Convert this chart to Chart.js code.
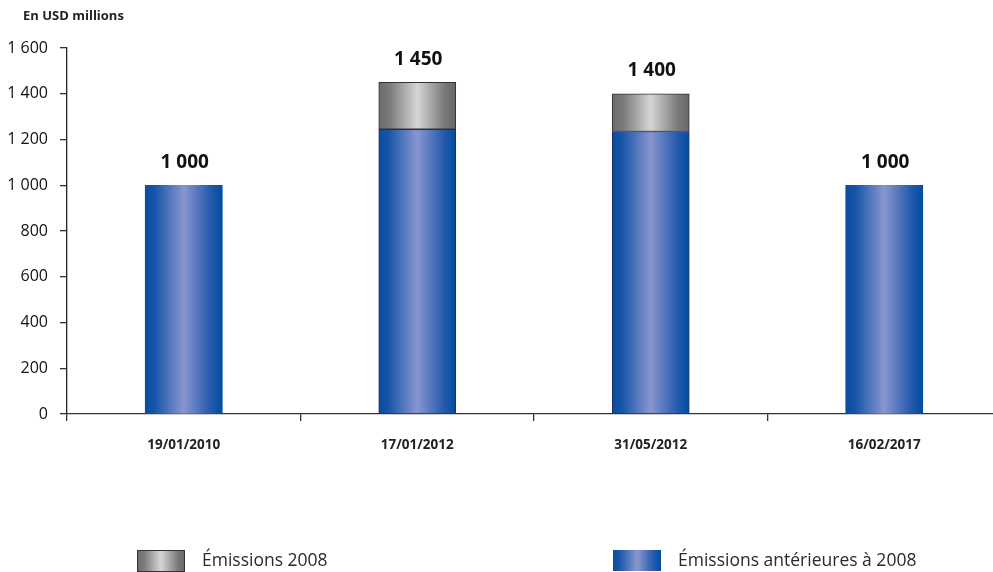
<!DOCTYPE html>
<html>
<head>
<meta charset="utf-8">
<script src="https://cdn.jsdelivr.net/npm/chart.js@4/dist/chart.umd.min.js"></script>
<style>
  html, body { margin: 0; padding: 0; background: #fff; overflow: hidden; }
  #wrap { position: absolute; left: 0; top: 0; width: 1005px; height: 572px; }
</style>
</head>
<body>
<div id="wrap"><canvas id="c" width="1005" height="572"></canvas></div>
<script>
// Issue dates and amounts (USD millions)
const categories = ['19/01/2010', '17/01/2012', '31/05/2012', '16/02/2017'];
const before2008 = [1000, 1245, 1235, 1000];
const issues2008 = [null, 205, 165, null];
const yTicks = [0, 200, 400, 600, 800, 1000, 1200, 1400, 1600];
const unitLabel = 'En USD millions';
const seriesNames = ['Émissions 2008', 'Émissions antérieures à 2008'];

const FONT = "'Open Sans', 'Noto Sans', sans-serif";
const BAR = 77;

const blueStops = [[0, '#0a4d9e'], [0.12, '#1554a8'], [0.5, '#8896cf'], [0.85, '#2459ad'], [1, '#004e9f']];
const greyStops = [[0, '#6b6b6d'], [0.15, '#7c7c7e'], [0.5, '#d6d6d6'], [0.85, '#7a7a7c'], [1, '#666668']];

function fmt(v) {
  return String(v).replace(/\B(?=(\d{3})+(?!\d))/g, ' ');
}

function hGradient(c2d, x0, x1, stops) {
  const g = c2d.createLinearGradient(x0, 0, x1, 0);
  stops.forEach(s => g.addColorStop(s[0], s[1]));
  return g;
}

function barFill(stops) {
  return ctx => {
    const xs = ctx.chart.scales && ctx.chart.scales.x;
    if (!xs || ctx.type !== 'data') return stops[2][1];
    const cx = xs.getPixelForValue(ctx.dataIndex);
    if (!isFinite(cx)) return stops[2][1];
    return hGradient(ctx.chart.ctx, cx - BAR / 2, cx + BAR / 2, stops);
  };
}

// Totals written above each bar, title and legend drawn on the canvas
const decorations = {
  id: 'decorations',
  afterDatasetsDraw(chart) {
    const c = chart.ctx;
    const xs = chart.scales.x, ys = chart.scales.y;
    c.save();
    c.fillStyle = '#111';
    c.textAlign = 'center';
    c.textBaseline = 'middle';
    c.font = `bold 19px ${FONT}`;
    categories.forEach((cat, i) => {
      const total = (before2008[i] || 0) + (issues2008[i] || 0);
      c.fillText(fmt(total), xs.getPixelForValue(i) + 1, ys.getPixelForValue(total) - 23);
    });

    c.textAlign = 'left';
    c.font = `bold 13px ${FONT}`;
    c.fillStyle = '#222';
    c.fillText(unitLabel, 23, 16);

    // legend
    const items = [
      { x: 137, stops: greyStops, border: '#333', name: seriesNames[0] },
      { x: 613, stops: blueStops, border: null, name: seriesNames[1] }
    ];
    c.font = `17.5px ${FONT}`;
    items.forEach(it => {
      c.fillStyle = hGradient(c, it.x, it.x + 48, it.stops);
      c.fillRect(it.x, 550, 48, 21);
      if (it.border) {
        c.strokeStyle = it.border;
        c.lineWidth = 1;
        c.strokeRect(it.x + 0.5, 550.5, 47, 21);
      }
      c.fillStyle = '#2a2a2a';
      c.fillText(it.name, it.x + 65, 561);
    });
    c.restore();
  }
};

new Chart(document.getElementById('c'), {
  type: 'bar',
  data: {
    labels: categories,
    datasets: [
      {
        label: seriesNames[1],
        data: before2008,
        backgroundColor: barFill(blueStops),
        borderColor: '#1d2f5e',
        borderWidth: [0, 1, 1, 0],
        barThickness: BAR,
        stack: 's'
      },
      {
        label: seriesNames[0],
        data: issues2008,
        backgroundColor: barFill(greyStops),
        borderColor: '#333',
        borderWidth: 1,
        borderSkipped: false,
        barThickness: BAR,
        stack: 's'
      }
    ]
  },
  options: {
    responsive: false,
    animation: false,
    layout: { padding: { top: 48, left: 0, right: 4, bottom: 0 } },
    plugins: {
      legend: { display: false },
      tooltip: { enabled: false },
      title: { display: false }
    },
    scales: {
      x: {
        stacked: true,
        afterFit: s => { s.height = 158; },
        border: { display: true, color: '#333', width: 1.3 },
        grid: { offset: true, drawOnChartArea: false, drawTicks: true, tickLength: 7, color: '#333', lineWidth: 1.3 },
        ticks: {
          padding: 16,
          color: '#222',
          font: { family: FONT, size: 13.5, weight: 'bold' }
        }
      },
      y: {
        stacked: true,
        min: 0,
        max: 1600,
        afterFit: s => { s.width = 67; },
        afterBuildTicks: s => { s.ticks = yTicks.map(v => ({ value: v })); },
        border: { display: true, color: '#222', width: 1.3 },
        grid: { drawOnChartArea: false, drawTicks: true, tickLength: 7, color: '#333', lineWidth: 1.3 },
        ticks: {
          padding: 12,
          color: '#111',
          font: { family: FONT, size: 16 },
          callback: v => fmt(v)
        }
      }
    }
  },
  plugins: [decorations]
});
</script>
</body>
</html>
